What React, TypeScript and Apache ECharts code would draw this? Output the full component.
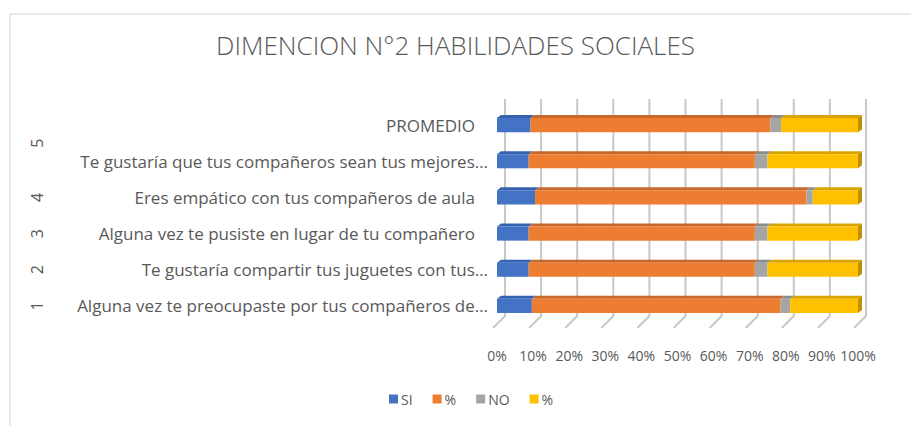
import React, { useEffect, useRef } from 'react';
import * as echarts from 'echarts';

// Categories, bottom to top
const categories = [
  'Alguna vez te preocupaste por tus compañeros de…',
  'Te gustaría compartir tus juguetes con tus…',
  'Alguna vez te pusiste en lugar de tu compañero',
  'Eres empático con tus compañeros de aula',
  'Te gustaría que tus compañeros sean tus mejores…',
  'PROMEDIO',
];
const paddedCategories = [
  'Alguna vez te pusiste en lugar de tu compañero',
  'Eres empático con tus compañeros de aula',
  'PROMEDIO',
];
// Outer (grouping) labels and the category index ranges they span
const groupLabels = ['1', '2', '3', '4', '5'];
const groupFrom = [0, 1, 2, 3, 4];
const groupTo = [0, 1, 2, 3, 5];

// Values (count and percentage of SI / NO answers)
const siCount = [11, 10, 10, 12, 10, 10.6];
const siPct = [78.57, 71.43, 71.43, 85.71, 71.43, 75.71];
const noCount = [3, 4, 4, 2, 4, 3.4];
const noPct = [21.43, 28.57, 28.57, 14.29, 28.57, 24.29];

const seriesKeys = ['SI', '% SI', 'NO', '% NO'];
const xTicks = [0, 10, 20, 30, 40, 50, 60, 70, 80, 90, 100];

const frontColors = ['#4472C4', '#ED7D31', '#A5A5A5', '#FFC000'];
const topColors = ['#3562B0', '#C8682A', '#8C8C8C', '#D9A400'];
const sideColors = ['#2F5597', '#B05A22', '#7F7F7F', '#BF9000'];

const TEXT = '#595959';
const FONT = 'Open Sans, sans-serif';

export default function App() {
  const ref = useRef<HTMLDivElement>(null);

  useEffect(() => {
    if (!ref.current) return;
    const chart = echarts.init(ref.current, null, { renderer: 'svg' });

    const raw = [siCount, siPct, noCount, noPct];
    const totals = categories.map((_, i) => raw.reduce((s, arr) => s + arr[i], 0));
    const norm = raw.map((arr) => arr.map((v, i) => (v / totals[i]) * 100));
    const starts: number[][] = [];
    const ends: number[][] = [];
    norm.forEach((arr, k) => {
      starts[k] = arr.map((_, i) => (k === 0 ? 0 : ends[k - 1][i]));
      ends[k] = arr.map((v, i) => starts[k][i] + v);
    });

    const DX = 4;
    const DY = 3;

    const barSeries = seriesKeys.map((name, k) => ({
      type: 'custom',
      name,
      coordinateSystem: 'cartesian2d',
      itemStyle: { color: frontColors[k] },
      encode: { x: [0, 1], y: 2 },
      z: 5,
      data: categories.map((_, i) => [starts[k][i], ends[k][i], i]),
      renderItem: (params: any, api: any) => {
        const s = api.value(0);
        const e = api.value(1);
        const c = api.value(2);
        const p0 = api.coord([s, c]);
        const p1 = api.coord([e, c]);
        const band = api.size([0, 1])[1];
        const h = band * 0.39;
        const yt = p0[1] - h / 2;
        const yb = p0[1] + h / 2;
        const x0 = p0[0];
        const x1 = p1[0];
        const children: any[] = [
          {
            type: 'polygon',
            shape: { points: [[x0, yt], [x1, yt], [x1 + DX, yt - DY], [x0 + DX, yt - DY]] },
            style: { fill: topColors[k] },
          },
          {
            type: 'rect',
            shape: { x: x0, y: yt, width: x1 - x0, height: yb - yt },
            style: { fill: frontColors[k] },
          },
        ];
        if (k === seriesKeys.length - 1) {
          children.push({
            type: 'polygon',
            shape: { points: [[x1, yt], [x1 + DX, yt - DY], [x1 + DX, yb - DY], [x1, yb]] },
            style: { fill: sideColors[k] },
          });
        }
        return { type: 'group', children };
      },
    }));

    const gridSeries = {
      type: 'custom',
      name: 'grid',
      coordinateSystem: 'cartesian2d',
      silent: true,
      z: 1,
      encode: { x: 0, y: 1 },
      data: xTicks.map((t) => [t, 0]),
      renderItem: (params: any, api: any) => {
        const cs = params.coordSys;
        const x = api.coord([api.value(0), 0])[0];
        const top = cs.y;
        const bottom = cs.y + cs.height;
        return {
          type: 'polyline',
          shape: {
            points: [
              [x + 8, top - 8],
              [x + 8, bottom - 8],
              [x - 4, bottom + 4],
            ],
          },
          style: { stroke: '#C8C8C8', lineWidth: 2, fill: null },
        };
      },
    };

    const groupSeries = {
      type: 'custom',
      name: 'groups',
      coordinateSystem: 'cartesian2d',
      silent: true,
      z: 3,
      encode: { x: 0, y: 1 },
      data: groupLabels.map((_, g) => [0, groupFrom[g], groupTo[g], g]),
      renderItem: (params: any, api: any) => {
        const ya = api.coord([0, api.value(1)])[1];
        const yb = api.coord([0, api.value(2)])[1];
        const g = api.value(3);
        return {
          type: 'text',
          x: 37,
          y: (ya + yb) / 2,
          rotation: Math.PI / 2,
          style: {
            text: groupLabels[g],
            x: 0,
            y: 0,
            align: 'center',
            verticalAlign: 'middle',
            fill: TEXT,
            fontSize: 16,
            fontFamily: FONT,
          },
        };
      },
    };

    chart.setOption({
      animation: false,
      title: {
        text: 'DIMENCION N°2 HABILIDADES SOCIALES',
        left: 'center',
        top: 27,
        textStyle: { color: TEXT, fontSize: 26, fontWeight: 300, fontFamily: FONT },
      },
      graphic: [
        {
          type: 'rect',
          shape: { x: 10, y: 14, width: 1000, height: 600 },
          style: { fill: null, stroke: '#E3E3E3', lineWidth: 1.5 },
          silent: true,
          z: 0,
        },
      ],
      legend: {
        data: seriesKeys,
        left: 384,
        top: 387,
        icon: 'rect',
        itemWidth: 9,
        itemHeight: 9,
        itemGap: 20,
        formatter: (name: string) => (name.startsWith('%') ? '%' : name),
        textStyle: { color: TEXT, fontSize: 14, fontFamily: FONT, padding: [0, 0, 0, -2] },
      },
      grid: { left: 497, right: 53, top: 107, bottom: 102, containLabel: false },
      xAxis: {
        type: 'value',
        min: 0,
        max: 100,
        interval: 10,
        axisLine: { show: false },
        axisTick: { show: false },
        splitLine: { show: false },
        axisLabel: {
          formatter: '{value}%',
          color: TEXT,
          fontSize: 14,
          fontFamily: FONT,
          margin: 24,
        },
      },
      yAxis: {
        type: 'category',
        data: categories,
        axisLine: { show: false },
        axisTick: { show: false },
        axisLabel: {
          color: TEXT,
          fontSize: 17,
          fontFamily: FONT,
          margin: 9,
          formatter: (v: string) => (paddedCategories.includes(v) ? `{p|${v}}` : v),
          rich: { p: { color: TEXT, fontSize: 17, fontFamily: FONT, padding: [0, 13, 0, 0] } },
        },
      },
      series: [gridSeries, ...barSeries, groupSeries],
    });

    return () => chart.dispose();
  }, []);

  return (
    <div
      ref={ref}
      style={{ position: 'absolute', left: 0, top: 0, width: 911, height: 426, background: '#fff' }}
    />
  );
}
